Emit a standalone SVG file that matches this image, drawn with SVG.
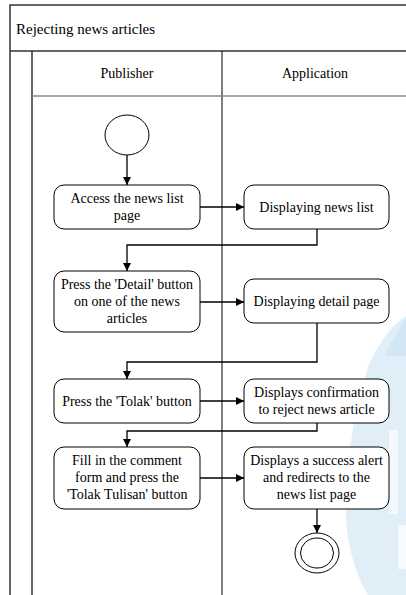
<svg xmlns="http://www.w3.org/2000/svg" width="406" height="595" viewBox="0 0 406 595" font-family="'Liberation Serif', 'Times New Roman', serif">
  <defs>
    <marker id="arrow" viewBox="0 0 10 10" refX="10" refY="5" markerWidth="8" markerHeight="8" markerUnits="userSpaceOnUse" orient="auto">
      <path d="M0,0 L10,5 L0,10 Z" fill="#000"/>
    </marker>
    <style>
      text { font-family: 'Liberation Serif', 'Times New Roman', serif; font-size: 14px; fill: #000; text-anchor: middle; }
      .title { font-size: 15px; text-anchor: start; }
      .frame { stroke: #333; stroke-width: 1.5; fill: none; }
      .lane { stroke: #000; stroke-width: 1; fill: none; }
      .head { stroke: #888; stroke-width: 1.5; fill: none; }
      .action { fill: #fff; stroke: #000; stroke-width: 1; }
      .node { fill: #fff; stroke: #000; stroke-width: 1; }
      .conn { fill: none; stroke: #000; stroke-width: 1.3; marker-end: url(#arrow); }
      .mark { fill: #e0eef7; }
      .mark2 { fill: #d3e6f3; }
    </style>
  </defs>

  <rect width="406" height="595" fill="#fff"/>

  <!-- faint background emblem -->
  <g id="emblem">
    <path class="mark" d="M406,316 L398,322 C385,335 372,352 364,380 C354,415 346,460 346,510 C346,545 356,575 368,595 L406,595 Z"/>
    <path class="mark2" d="M406,318 L384,356 L406,356 Z"/>
    <rect x="389" y="430" width="9" height="84" fill="#fff" opacity="0.6"/>
    <rect x="398" y="525" width="8" height="44" fill="#fff" opacity="0.7"/>
  </g>

  <!-- swimlane frame -->
  <g id="frame">
    <path class="frame" d="M10,595 V5 H406"/>
    <path class="frame" d="M10,51 H406"/>
    <path class="frame" d="M32,51 V595"/>
    <path class="lane" d="M222,51 V595"/>
    <path class="head" d="M32,96 H406"/>
    <text class="title" x="16" y="34">Rejecting news articles</text>
    <text x="127" y="78">Publisher</text>
    <text x="315" y="78">Application</text>
  </g>

  <!-- connectors -->
  <g id="connectors">
    <path class="conn" d="M127,155 V185"/>
    <path class="conn" d="M200,207 H244"/>
    <path class="conn" d="M317,229 V245 H127 V271"/>
    <path class="conn" d="M200,302 H244"/>
    <path class="conn" d="M317,323 V362 H127 V379"/>
    <path class="conn" d="M200,401 H244"/>
    <path class="conn" d="M317,423 V431 H127 V447"/>
    <path class="conn" d="M200,478 H244"/>
    <path class="conn" d="M317,509 V533"/>
  </g>

  <g id="start">
    <ellipse class="node" cx="127" cy="135" rx="22" ry="20"/>
  </g>

  <g id="access-list">
    <rect class="action" x="54" y="185" width="146" height="44" rx="10"/>
    <text x="127" y="203">Access the news list</text>
    <text x="127" y="220">page</text>
  </g>

  <g id="show-list">
    <rect class="action" x="244" y="185" width="145" height="44" rx="10"/>
    <text x="316.5" y="212">Displaying news list</text>
  </g>

  <g id="press-detail">
    <rect class="action" x="54" y="271" width="146" height="61" rx="10"/>
    <text x="127" y="289">Press the 'Detail' button</text>
    <text x="127" y="306">on one of the news</text>
    <text x="127" y="323">articles</text>
  </g>

  <g id="show-detail">
    <rect class="action" x="244" y="279" width="145" height="44" rx="10"/>
    <text x="316.5" y="306">Displaying detail page</text>
  </g>

  <g id="press-tolak">
    <rect class="action" x="54" y="379" width="146" height="44" rx="10"/>
    <text x="127" y="406">Press the 'Tolak' button</text>
  </g>

  <g id="show-confirm">
    <rect class="action" x="244" y="379" width="145" height="44" rx="10"/>
    <text x="316.5" y="397">Displays confirmation</text>
    <text x="316.5" y="414">to reject news article</text>
  </g>

  <g id="fill-comment">
    <rect class="action" x="54" y="447" width="146" height="62" rx="10"/>
    <text x="127" y="465">Fill in the comment</text>
    <text x="127" y="482">form and press the</text>
    <text x="127" y="499">'Tolak Tulisan' button</text>
  </g>

  <g id="show-success">
    <rect class="action" x="244" y="447" width="145" height="62" rx="10"/>
    <text x="316.5" y="465">Displays a success alert</text>
    <text x="316.5" y="482">and redirects to the</text>
    <text x="316.5" y="499">news list page</text>
  </g>

  <g id="end">
    <ellipse class="node" cx="317" cy="553" rx="22" ry="20"/>
    <ellipse class="node" cx="317" cy="553" rx="16.5" ry="15"/>
  </g>
</svg>
